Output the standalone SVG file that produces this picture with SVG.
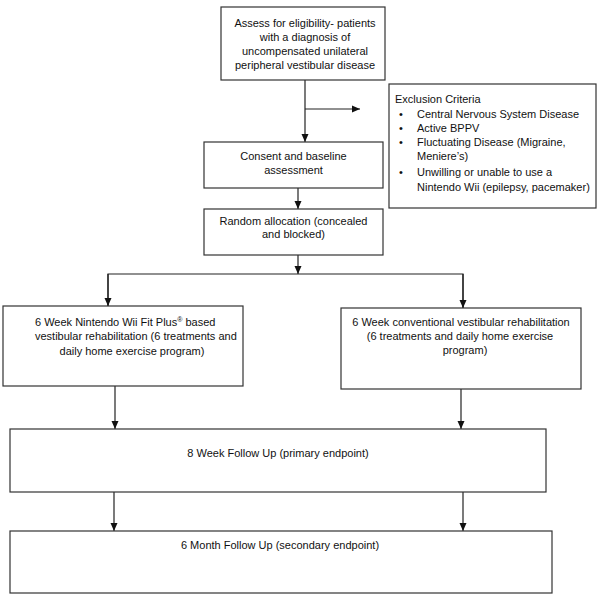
<svg xmlns="http://www.w3.org/2000/svg" width="600" height="602" viewBox="0 0 600 602">
<style>
.box{fill:#fff;stroke:#333;stroke-width:1.2}
.t{font-family:"Liberation Sans",Arial,sans-serif;font-size:11px;fill:#111}
.m{text-anchor:middle}
.c{fill:none;stroke:#222;stroke-width:1.2}
</style>
<defs>
<marker id="ah" viewBox="0 0 8 8" refX="8" refY="4" markerWidth="8" markerHeight="8" markerUnits="userSpaceOnUse" orient="auto">
<path d="M0,0.5 L8,4 L0,7.5 Z" fill="#111"/>
</marker>
</defs>
<rect width="600" height="602" fill="#fff"/>
<g id="connectors">
<path class="c" d="M305,80 V142" marker-end="url(#ah)"/>
<path class="c" d="M305,109 H360" marker-end="url(#ah)"/>
<path class="c" d="M298,188 V209" marker-end="url(#ah)"/>
<path class="c" d="M298,255 V274" marker-end="url(#ah)"/>
<path class="c" d="M108,306 V274 H463 V308"/>
<path class="c" d="M108,274 V306" marker-end="url(#ah)"/>
<path class="c" d="M463,274 V308" marker-end="url(#ah)"/>
<path class="c" d="M115,386 V429" marker-end="url(#ah)"/>
<path class="c" d="M461,389 V429" marker-end="url(#ah)"/>
<path class="c" d="M114,492 V531" marker-end="url(#ah)"/>
<path class="c" d="M463,492 V531" marker-end="url(#ah)"/>
</g>
<g id="assess">
<rect class="box" x="221" y="7" width="164" height="73"/>
<text class="t m" x="305" y="27">Assess for eligibility- patients</text>
<text class="t m" x="305" y="41">with a diagnosis of</text>
<text class="t m" x="305" y="55">uncompensated unilateral</text>
<text class="t m" x="305" y="69">peripheral vestibular disease</text>
</g>
<g id="exclusion">
<rect class="box" x="389" y="84" width="207" height="124"/>
<text class="t" x="395" y="103">Exclusion Criteria</text>
<text class="t" x="399" y="118">•</text><text class="t" x="417" y="118">Central Nervous System Disease</text>
<text class="t" x="399" y="132">•</text><text class="t" x="417" y="132">Active BPPV</text>
<text class="t" x="399" y="146">•</text><text class="t" x="417" y="146">Fluctuating Disease (Migraine,</text>
<text class="t" x="417" y="160">Meniere’s)</text>
<text class="t" x="399" y="176">•</text><text class="t" x="417" y="176">Unwilling or unable to use a</text>
<text class="t" x="417" y="191">Nintendo Wii (epilepsy, pacemaker)</text>
</g>
<g id="consent">
<rect class="box" x="204" y="142" width="179" height="46"/>
<text class="t m" x="293.5" y="160">Consent and baseline</text>
<text class="t m" x="293.5" y="174">assessment</text>
</g>
<g id="random">
<rect class="box" x="204" y="209" width="179" height="46"/>
<text class="t m" x="293.5" y="225">Random allocation (concealed</text>
<text class="t m" x="293.5" y="238">and blocked)</text>
</g>
<g id="wii">
<rect class="box" x="3" y="306" width="240" height="80"/>
<text class="t" x="35" y="326">6 Week Nintendo Wii Fit Plus<tspan font-size="7" dy="-4">®</tspan><tspan dy="4"> based</tspan></text>
<text class="t" x="35" y="340">vestibular rehabilitation (6 treatments and</text>
<text class="t m" x="132" y="355">daily home exercise program)</text>
</g>
<g id="conventional">
<rect class="box" x="341" y="308" width="240" height="81"/>
<text class="t m" x="461" y="326">6 Week conventional vestibular rehabilitation</text>
<text class="t m" x="460" y="340">(6 treatments and daily home exercise</text>
<text class="t m" x="465" y="354">program)</text>
</g>
<g id="followup8">
<rect class="box" x="10" y="429" width="536" height="63"/>
<text class="t m" x="278" y="457">8 Week Follow Up (primary endpoint)</text>
</g>
<g id="followup6">
<rect class="box" x="10" y="531" width="542" height="62"/>
<text class="t m" x="280" y="549">6 Month Follow Up (secondary endpoint)</text>
</g>
</svg>
